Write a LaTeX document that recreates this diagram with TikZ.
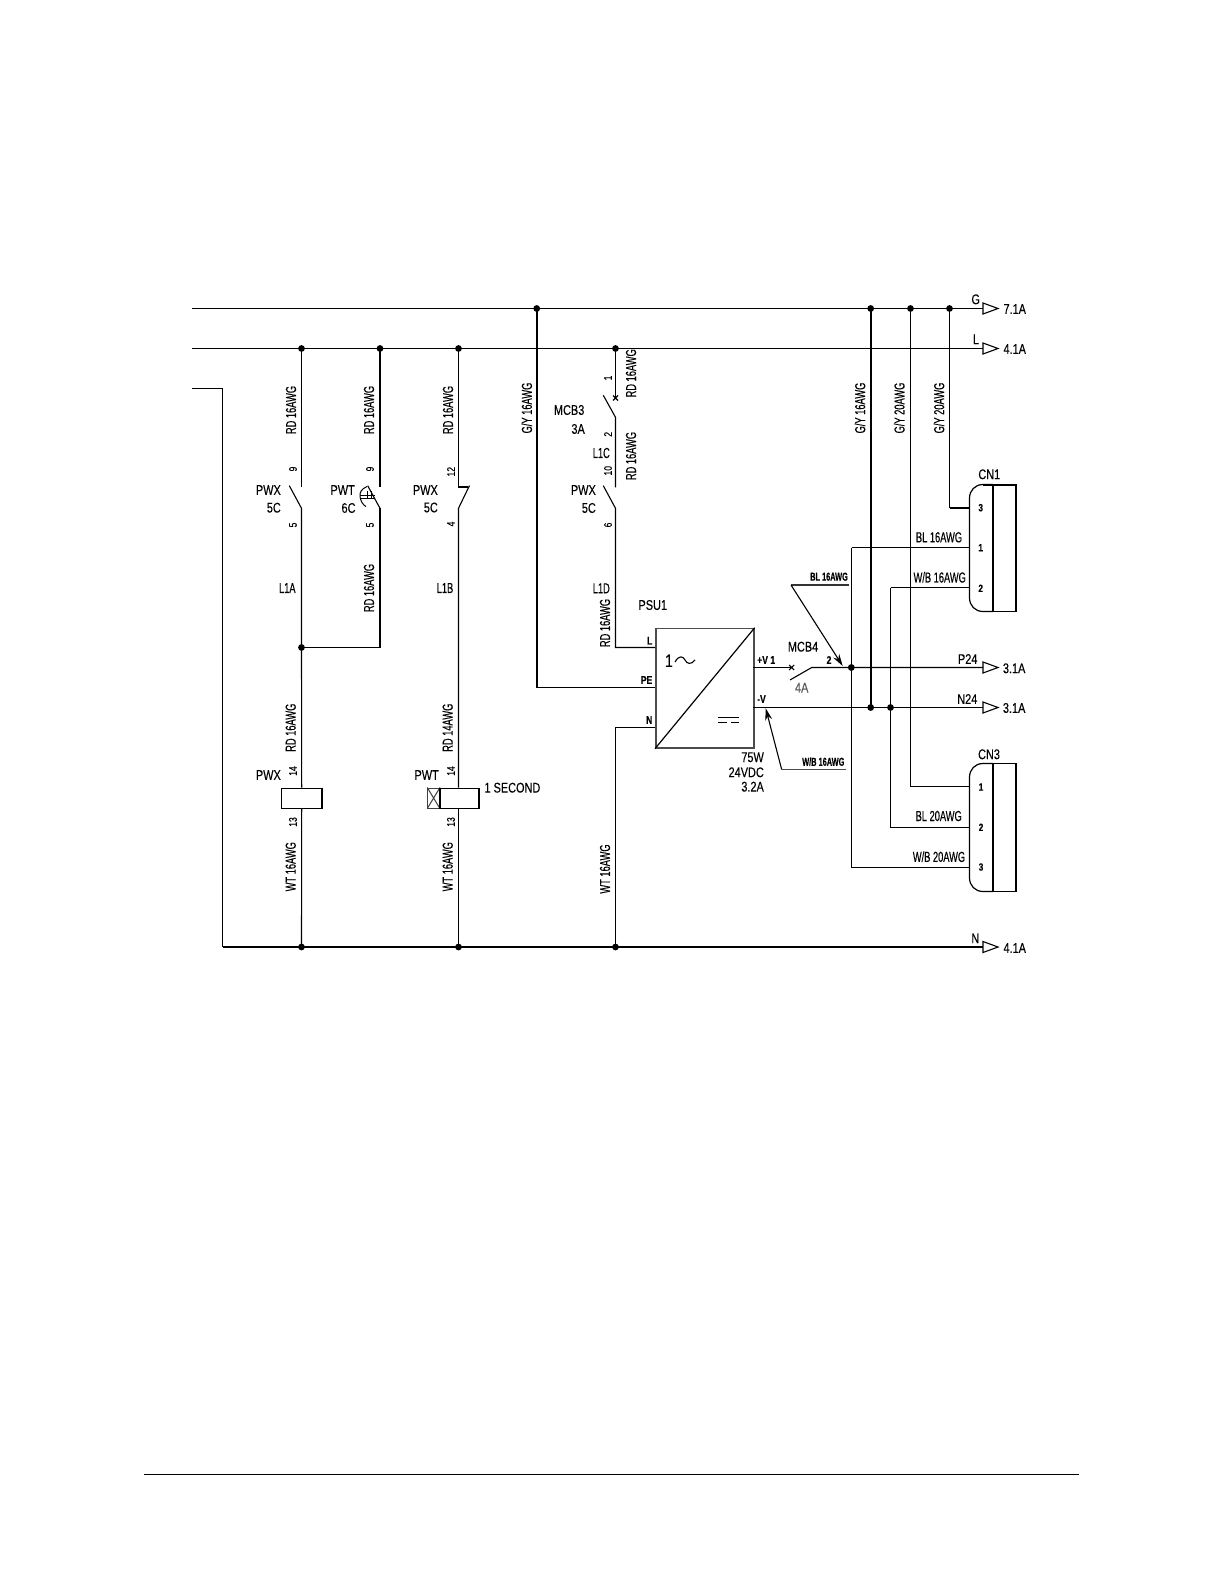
\documentclass[tikz,border=0pt]{standalone}
\usepackage{fontspec}
\setmainfont{Liberation Sans}
\newfontfamily\cadn[FakeStretch=0.64,FakeBold=0.2]{Liberation Sans}
\newfontfamily\cadb[FakeStretch=0.78,FakeBold=0.2]{Liberation Sans}
\usetikzlibrary{arrows.meta}
\tikzset{
  x=1pt,y=-1pt,
  wire/.style={line width=1.1pt,draw=black},
  thick wire/.style={line width=2.3pt,draw=black},
  dotj/.style={circle,fill=black,inner sep=0pt,minimum size=6.8pt},
  txt/.style={inner sep=0pt,text=black,font=\cadb\fontsize{14}{15}\selectfont},
  vl/.style={inner sep=0pt,text=black,rotate=90,font=\cadn\fontsize{14.5}{15}\selectfont},
  pin/.style={inner sep=0pt,text=black,rotate=90,font=\cadb\fontsize{11}{12}\selectfont},
  cpin/.style={inner sep=0pt,text=black,font=\cadb\bfseries\fontsize{10.5}{11}\selectfont},
  wl/.style={inner sep=0pt,text=black,font=\cadn\fontsize{14.5}{15}\selectfont},
  sm/.style={inner sep=0pt,text=black,font=\cadn\bfseries\fontsize{11.5}{12}\selectfont},
  term/.style={inner sep=0pt,text=black,font=\cadb\bfseries\fontsize{11}{12}\selectfont},
  arrowtri/.style={draw=black,line width=1.1pt,fill=white},
  leader/.style={line width=1.1pt,draw=black,-{Stealth[length=12pt,width=7pt]}},
}
\begin{document}
\begin{tikzpicture}
\useasboundingbox (0,0) rectangle (1224,1584);
\fill[white] (0,0) rectangle (1224,1584);
% page rule
\coordinate (ruleL) at (144,1474.5); \coordinate (ruleR) at (1078.7,1474.5);
\draw[line width=1.2pt] (ruleL) -- (ruleR);
% rails
\coordinate (gL) at (192,308.5); \coordinate (gR) at (983,308.5);
\coordinate (lL) at (192,348.5); \coordinate (lR) at (983,348.5);
\coordinate (nL) at (192,388.5); \coordinate (nC) at (222.5,388.5);
\coordinate (nD) at (222.5,947); \coordinate (nR) at (983,947);
\draw[wire] (gL) -- (gR);
\draw[wire] (lL) -- (lR);
\draw[wire] (nL) -- (nC) -- (nD);
\draw[thick wire] (nD) -- (nR);
% end arrows
\foreach \nm/\yy in {arG/308.5,arL/348.5,arP/667.5,arM/707.5,arN/947}{
  \coordinate (\nm) at (983,\yy);
  \draw[arrowtri] (983,\yy-5.5) -- (998,\yy) -- (983,\yy+5.5) -- cycle;
}
\node[wl,font=\cadb\fontsize{14}{15}\selectfont] (tG) at (975.7,299.3) {G};
\node[wl,font=\cadb\fontsize{14}{15}\selectfont] (tL) at (976,339.3) {L};
\node[txt,anchor=west] (a71) at (1003.3,309) {7.1A};
\node[txt,anchor=west] (a41) at (1003.3,349) {4.1A};
\node[txt] (tP24) at (967.7,659) {P24};
\node[txt] (tN24) at (967.3,699) {N24};
\node[txt,anchor=west] (a31p) at (1002.7,668.3) {3.1A};
\node[txt,anchor=west] (a31n) at (1002.7,708) {3.1A};
\node[txt] (tN) at (975.3,938.3) {N};
\node[txt,anchor=west] (a41n) at (1003.3,948) {4.1A};
% junction coordinates
\coordinate (j1) at (301.5,348.5); \coordinate (j2) at (380,348.5); \coordinate (j3) at (458.5,348.5);
\coordinate (j4) at (536.7,308.5); \coordinate (j5) at (615.5,348.5);
\coordinate (j6) at (870.7,308.5); \coordinate (j7) at (910.5,308.5); \coordinate (j8) at (949.5,308.5);
% column 1
\coordinate (s1t) at (301.5,487); \coordinate (s1b) at (301.5,508.3); \coordinate (s1l) at (289.3,485.7);
\coordinate (j1m) at (301.5,647.5);
\node[draw=black,line width=1.1pt,inner sep=0pt,minimum width=39.7pt,minimum height=20pt,anchor=north west] (coil1) at (281.3,787.5) {};
\draw[line width=1.9pt] (coil1.north east) -- (coil1.south east);
\coordinate (j1b) at (301.5,947);
\draw[wire] (j1) -- (s1t);
\draw[wire] (s1l) -- (s1b) -- (j1m) -- (coil1.north);
\draw[wire] (coil1.south) -- (j1b);
% column 2
\coordinate (s2t) at (380,487); \coordinate (s2b) at (380,508.3); \coordinate (s2l) at (367.7,485.7); \coordinate (s2m) at (380,647.5);
\draw[thick wire] (j2) -- (s2t);
\draw[wire] (s2l) -- (s2b);
\draw[thick wire] (s2b) -- (s2m);
\draw[wire] (s2m) -- (j1m);
\draw[line width=1pt] (367,486.5) .. controls (361,489) and (359.5,493) .. (360,496.5) .. controls (360.5,501) and (363,505) .. (366,506.5);
\draw[line width=.9pt] (360,495.2) -- (375,495.2) (360,498.2) -- (375,498.2) (367,491) -- (367,498.2) (371.5,491) -- (371.5,498.2);
% column 3
\coordinate (s3t) at (458.5,487); \coordinate (s3h) at (468,487); \coordinate (s3b) at (458.5,508.3); \coordinate (s3r) at (469.5,485.5);
\node[draw=black,line width=1.1pt,inner sep=0pt,minimum width=38.3pt,minimum height=20pt,anchor=north west] (coil2) at (440,787.5) {};
\draw[line width=1.9pt] (coil2.north east) -- (coil2.south east);
\node[draw=black!75,line width=1.1pt,inner sep=0pt,minimum width=11.7pt,minimum height=20pt,anchor=north east,fill=white] (xbox) at (440,787.5) {};
\draw[line width=1pt,draw=black!75] (xbox.north west) -- (xbox.south east) (xbox.south west) -- (xbox.north east);
\draw[line width=1.6pt] (xbox.north east) -- (xbox.south east);
\coordinate (j3b) at (458.5,947);
\draw[wire] (j3) -- (s3t) -- (s3h);
\draw[wire] (s3r) -- (s3b) -- (coil2.north -| s3b);
\draw[wire] (coil2.south -| s3b) -- (j3b);
% column 4
\coordinate (c4) at (536.7,687.5);
\draw[thick wire] (j4) -- (c4);
% PSU
\node[draw=black!70,line width=1.7pt,inner sep=0pt,minimum width=98pt,minimum height=119.3pt,anchor=north west] (psu) at (655,627.7) {};
\draw[line width=1.2pt] (psu.south west) -- (psu.north east);
\draw[wire] (c4) -- (c4 -| psu.west);
% column 5
\coordinate (m3t) at (615.5,398); \coordinate (m3b) at (615.5,417.3); \coordinate (m3l) at (603.3,395.3);
\coordinate (s5t) at (615.5,487.3); \coordinate (s5b) at (615.5,508.3); \coordinate (s5l) at (603.3,485.7);
\coordinate (c5) at (615.5,647.5); \coordinate (c5n) at (615.5,727.5); \coordinate (j5b) at (615.5,947);
\draw[wire] (j5) -- (m3t);
\draw[line width=1.1pt] (613,395.5) -- (618,400.5) (613,400.5) -- (618,395.5);
\draw[wire] (m3l) -- (m3b) -- (s5t);
\draw[wire] (s5l) -- (s5b) -- (c5) -- (c5 -| psu.west);
\draw[wire] (psu.west |- c5n) -- (c5n) -- (j5b);
% PSU symbols
\node[inner sep=0pt,font=\cadb\fontsize{18}{19}\selectfont] (one) at (669,660.7) {1};
\draw[line width=1.1pt] (675,662) .. controls (679,655) and (683,656) .. (685,660) .. controls (687,664) and (691,665) .. (695,660);
\draw[line width=1pt] (718,717.5) -- (739,717.5) (718,722.5) -- (727,722.5) (731,722.5) -- (739,722.5);
% outputs
\coordinate (vp) at (753,667.5); \coordinate (mx) at (791.7,667.5);
\coordinate (mlev) at (790,680); \coordinate (mb) at (811.7,667.5);
\coordinate (j9) at (851.3,667.5); \coordinate (vm) at (753,707.5);
\draw[wire] (vp) -- (mx);
\draw[line width=1.1pt] (789.2,665) -- (794.2,670) (789.2,670) -- (794.2,665);
\draw[wire] (mlev) -- (mb) -- (j9) -- (arP);
\draw[wire] (vm) -- (arM);
% vertical buses
\coordinate (j6b) at (870.7,707.5); \coordinate (j10) at (890.5,707.5);
\coordinate (b6t) at (851.5,547.5); \coordinate (b6b) at (851.5,867.5);
\coordinate (b7t) at (890.5,587.5); \coordinate (b7b) at (890.5,827.5);
\coordinate (b8b) at (910.5,786.5);
\coordinate (b9b) at (949.5,507.7);
\draw[thick wire] (j6) -- (j6b);
\draw[wire] (j7) -- (b8b);
\draw[wire] (j8) -- (b9b);
\draw[wire] (b7t) -- (b7b);
\draw[wire] (b6t) -- (b6b);
% connectors
\foreach \nm/\yt/\yb in {cn1/484.5/611.5,cn3/763.5/891.5}{
  \draw[line width=1.2pt] (993,\yt) -- (983,\yt) .. controls (975,\yt) and (969.5,\yt+6) .. (969.5,\yt+13.7) -- (969.5,\yb-13.7) .. controls (969.5,\yb-6) and (975,\yb) .. (983,\yb) -- (993,\yb);
  \draw[line width=1.1pt] (993,\yt) -- (1016,\yt) -- (1016,\yb) -- (993,\yb);
  \draw[line width=2.2pt] (993,\yt) -- (993,\yb);
}
\draw[line width=2pt] (983,484.5) -- (1016.5,484.5);
\coordinate (p13) at (969.5,507.7); \coordinate (p11) at (969.5,547.5); \coordinate (p12) at (969.5,587.5);
\coordinate (p31) at (969.5,786.5); \coordinate (p32) at (969.5,827.5); \coordinate (p33) at (969.5,867.5);
\draw[line width=2pt] (b9b) -- (p13);
\draw[wire] (b6t) -- (p11);
\draw[wire] (b7t) -- (p12);
\draw[wire] (b8b) -- (p31);
\draw[wire] (b7b) -- (p32);
\draw[wire] (b6b) -- (p33);
\node[txt] (cn1l) at (989.3,474.3) {CN1};
\node[txt] (cn3l) at (989,754.3) {CN3};
\node[cpin] (n13) at (980.7,507.7) {3};
\node[cpin] (n11) at (980.7,547.7) {1};
\node[cpin] (n12) at (980.7,588.3) {2};
\node[cpin] (n31) at (981,787) {1};
\node[cpin] (n32) at (981,827.3) {2};
\node[cpin] (n33) at (981,867) {3};
% leaders
\coordinate (l1a) at (849,585); \coordinate (l1b) at (791,585); \coordinate (l1c) at (842.7,666);
\draw[line width=1.3pt,draw=black!80] (l1a) -- (l1b);
\draw[leader] (l1b) -- (l1c);
\coordinate (l2a) at (845.7,769.6); \coordinate (l2b) at (781.7,769.6); \coordinate (l2c) at (765.7,708.3);
\draw[line width=1.5pt,draw=black!70] (l2a) -- (l2b);
\draw[leader] (l2b) -- (l2c);
% dots
\foreach \pp in {j1,j2,j3,j4,j5,j6,j7,j8,j1m,j1b,j3b,j5b,j9,j6b,j10}{
  \node[dotj] (d\pp) at (\pp) {};
}
% wire labels rotated
\node[vl] (w1) at (291,410) {RD 16AWG};
\node[vl] (w2) at (369,410) {RD 16AWG};
\node[vl] (w3) at (448,410) {RD 16AWG};
\node[vl] (w4) at (369,588) {RD 16AWG};
\node[vl] (w5) at (290.7,727.7) {RD 16AWG};
\node[vl] (w6) at (447.7,727.7) {RD 14AWG};
\node[vl] (w7) at (290.7,866.7) {WT 16AWG};
\node[vl] (w8) at (447.7,866.7) {WT 16AWG};
\node[vl] (w9) at (605,869) {WT 16AWG};
\node[vl] (w10) at (526.7,408) {G/Y 16AWG};
\node[vl] (w11) at (631,373.3) {RD 16AWG};
\node[vl] (w12) at (631,456) {RD 16AWG};
\node[vl] (w13) at (605,623) {RD 16AWG};
\node[vl] (w14) at (860,408) {G/Y 16AWG};
\node[vl] (w15) at (899.3,408) {G/Y 20AWG};
\node[vl] (w16) at (939,408) {G/Y 20AWG};
\node[wl,anchor=center] (l1aT) at (287.3,588) {L1A};
\node[wl] (l1bT) at (445,588) {L1B};
\node[wl,anchor=east] (l1cT) at (610,453) {L1C};
\node[wl,anchor=east] (l1dT) at (610,588.3) {L1D};
% pin labels
\node[pin] (p9a) at (293,469) {9};
\node[pin] (p5a) at (293,525) {5};
\node[pin] (p9b) at (370,469) {9};
\node[pin] (p5b) at (370,525) {5};
\node[pin] (p12t) at (451,471.7) {12};
\node[pin] (p4t) at (451,524) {4};
\node[pin] (p1m) at (608,378) {1};
\node[pin] (p2m) at (608,434.3) {2};
\node[pin] (p10) at (608,470.7) {10};
\node[pin] (p6) at (608,525) {6};
\node[pin] (p14a) at (293,771) {14};
\node[pin] (p13a) at (293,822) {13};
\node[pin] (p14b) at (451,771) {14};
\node[pin] (p13b) at (451,822) {13};
% device labels
\node[txt,anchor=east] (d1) at (281,490) {PWX};
\node[txt,anchor=east] (d2) at (281,507.7) {5C};
\node[txt,anchor=east] (d3) at (355,490) {PWT};
\node[txt,anchor=east] (d4) at (355.7,508) {6C};
\node[txt,anchor=east] (d5) at (438,490) {PWX};
\node[txt,anchor=east] (d6) at (438,507.5) {5C};
\node[txt,anchor=east] (d7) at (596,490) {PWX};
\node[txt,anchor=east] (d8) at (596,508) {5C};
\node[txt,anchor=east] (d9) at (584.5,410) {MCB3};
\node[txt,anchor=east] (d10) at (585,429) {3A};
\node[txt,anchor=east] (d11) at (281,775) {PWX};
\node[txt,anchor=east] (d12) at (439,775) {PWT};
\node[txt,anchor=west] (d13) at (484.3,787.7) {1 SECOND};
\node[txt,anchor=west] (d14) at (638.3,605) {PSU1};
\node[txt,anchor=west] (d15) at (787.7,646.7) {MCB4};
\node[txt,text=black!65] (d16) at (801.7,687.7) {4A};
\node[txt,anchor=east] (d17) at (764,757.3) {75W};
\node[txt,anchor=east] (d18) at (764,772.3) {24VDC};
\node[txt,anchor=east] (d19) at (764,786.7) {3.2A};
% terminals
\node[term,anchor=east] (t1) at (652.5,640.7) {L};
\node[term,anchor=east] (t2) at (652.5,680) {PE};
\node[term,anchor=east] (t3) at (652.5,720) {N};
\node[term,anchor=west] (t4) at (757,660) {+V 1};
\node[term,anchor=west] (t5) at (757,699) {-V};
\node[term] (t6) at (829,660) {2};
% small leader labels
\node[sm] (s1) at (829,576.7) {BL 16AWG};
\node[sm] (s2) at (823.3,761.7) {W/B 16AWG};
\node[wl] (s3) at (939,537.3) {BL 16AWG};
\node[wl] (s4) at (939.7,577.3) {W/B 16AWG};
\node[wl] (s5) at (938.7,816) {BL 20AWG};
\node[wl] (s6) at (939,856.7) {W/B 20AWG};
\end{tikzpicture}
\end{document}
